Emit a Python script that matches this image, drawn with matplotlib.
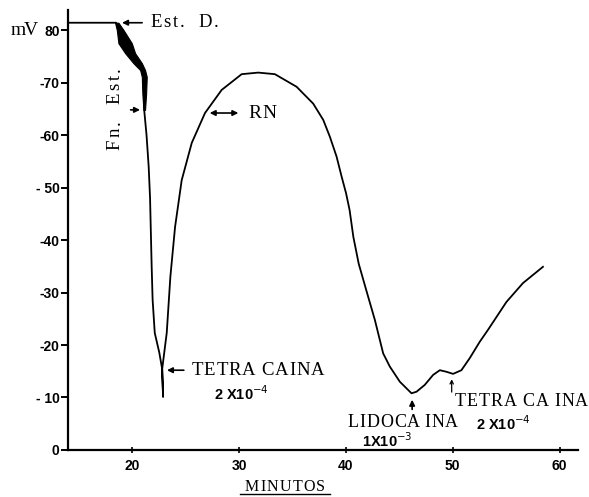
import numpy as np
import matplotlib.pyplot as plt
from matplotlib.lines import Line2D
from matplotlib.transforms import offset_copy

# trazo del potencial de membrana (mV, valor absoluto) contra minutos
minutos = [14, 18.5, 18.9, 19.35, 19.8, 20.5, 21.0, 21.14, 21.13, 21.13,
           21.35, 21.55, 21.68, 21.76, 21.83, 21.92, 22.12, 22.55, 22.83, 22.90,
           22.80, 23.24, 23.58, 24.02, 24.64, 25.58, 26.82, 28.38, 30.25, 31.8,
           33.36, 35.39, 36.94, 37.88, 38.50, 39.13, 39.60, 40.02, 40.35, 40.70,
           41.20, 41.90, 42.71, 43.49, 44.11, 45.05, 46.14, 46.61, 47.38, 48.16,
           48.79, 49.41, 50.03, 50.81, 51.59, 52.52, 53.30, 55.02, 56.57, 58.44]
mv = [81.4, 81.4, 80.0, 77.5, 75.6, 73.7, 72.4, 71.1, 67.9, 64.8,
      60.0, 54.0, 48.0, 41.0, 35.0, 28.6, 22.3, 18.5, 15.2, 10.1,
      15.2, 22.3, 33.0, 42.5, 51.4, 58.5, 64.2, 68.6, 71.6, 71.9,
      71.6, 69.2, 66.0, 62.9, 59.7, 55.9, 52.1, 48.9, 45.7, 40.6,
      35.5, 30.5, 24.8, 18.4, 15.9, 13.0, 10.8, 11.1, 12.4, 14.3,
      15.2, 14.9, 14.5, 15.2, 17.5, 20.6, 22.9, 28.2, 31.8, 34.9]

# banda oscura durante la estimulacion
banda_mv = [81.4, 80.0, 77.5, 75.6, 73.7, 72.4, 71.1, 67.9, 64.8]
banda_izq = [18.41, 18.57, 18.72, 19.35, 20.12, 20.75, 20.91, 20.96, 21.06]
banda_der = [18.72, 19.20, 19.97, 20.28, 20.91, 21.21, 21.37, 21.31, 21.21]

yticks = [0, 10, 20, 30, 40, 50, 60, 70, 80]
ylabels = ['0', '- 10', '-20', '-30', '-40', '- 50', '-60', '-70', '80']
xticks = [20, 30, 40, 50, 60]

serif = 'Liberation Serif'
sans = 'Liberation Sans'

fig = plt.figure(figsize=(5.89, 4.97), dpi=100, facecolor='white')
ax = fig.add_axes([0.1154, 0.0946, 0.8656, 0.885])
renderer = fig.canvas.get_renderer()


def spaced_text(x, y, s, width, size=11, rot=0):
    # texto a maquina: letras repartidas a lo largo de `width` pixeles
    texts, ws = [], []
    for ch in s:
        if rot == 0:
            t = ax.text(x, y, ch, family=serif, fontsize=size, ha='left', va='center')
        else:
            t = ax.text(x, y, ch, family=serif, fontsize=size, ha='center',
                        va='bottom', rotation=90)
        bb = t.get_window_extent(renderer)
        w = bb.width if rot == 0 else bb.height
        if ch == ' ':
            w = size * 0.3
        texts.append(t)
        ws.append(w)
    gap = (width - sum(ws)) / max(len(s) - 1, 1)
    pos = 0
    for t, w in zip(texts, ws):
        if rot == 0:
            t.set_transform(offset_copy(ax.transData, fig=fig, x=pos, y=0, units='dots'))
        else:
            t.set_transform(offset_copy(ax.transData, fig=fig, x=0, y=pos, units='dots'))
        pos += w + gap


ax.plot(minutos, mv, color='black', lw=1.3, solid_joinstyle='round')
ax.fill_betweenx(banda_mv, banda_izq, banda_der, color='black', lw=0.8)

ax.set_xlim(14, 61.7)
ax.set_ylim(0, 83.8)
ax.spines['top'].set_visible(False)
ax.spines['right'].set_visible(False)
ax.spines['left'].set_linewidth(1.6)
ax.spines['bottom'].set_linewidth(1.6)
ax.set_yticks(yticks)
ax.set_yticklabels(ylabels, fontsize=10, fontweight='bold', family=sans)
ax.set_xticks(xticks)
ax.set_xticklabels([str(t) for t in xticks], fontsize=10, fontweight='bold', family=sans)
ax.tick_params(axis='y', length=5, width=1.4, pad=1)
ax.tick_params(axis='x', direction='inout', length=5, width=1.2, pad=4)

arr = dict(arrowstyle='-|>', color='black', lw=1.2, mutation_scale=8)
num = dict(va='center', ha='center', fontsize=10.5, fontweight='bold', family=sans)

spaced_text(8.6, 80.0, 'mV', 28, size=14)

# Est. D.
ax.annotate('', xy=(18.8, 81.4), xytext=(21.2, 81.4), arrowprops=arr)
spaced_text(21.7, 81.4, 'Est.  D.', 68, size=13.5)

# Fn. Est.
spaced_text(18.4, 57.1, 'Fn.  Est.', 83, size=13.5, rot=90)
ax.annotate('', xy=(21.0, 64.8), xytext=(19.6, 64.8), arrowprops=arr)

# RN
ax.annotate('', xy=(27.0, 64.2), xytext=(30.2, 64.2),
            arrowprops=dict(arrowstyle='<|-|>', color='black', lw=1.2, mutation_scale=8))
spaced_text(30.85, 64.2, 'RN', 28, size=14)

# Tetracaina 1
ax.annotate('', xy=(23.0, 15.2), xytext=(25.1, 15.2), arrowprops=arr)
spaced_text(25.55, 15.2, 'TETRA CAINA', 133, size=13.5)
ax.text(30.2, 10.8, r'2 X10$^{-4}$', **num)

# Lidocaina
ax.annotate('', xy=(46.2, 10.1), xytext=(46.2, 7.2), arrowprops=arr)
spaced_text(40.2, 5.3, 'LIDOCA INA', 110, size=13)
ax.text(43.9, 1.7, r'1X10$^{-3}$', **num)

# Tetracaina 2
ax.annotate('', xy=(49.9, 14.0), xytext=(49.9, 10.5),
            arrowprops=dict(arrowstyle='->', color='black', lw=0.9, mutation_scale=6))
spaced_text(50.2, 9.3, 'TETRA CA INA', 133, size=13)
ax.text(54.7, 5.0, r'2 X10$^{-4}$', **num)

# MINUTOS subrayado
spaced_text(30.56, -7.05, 'MINUTOS', 80, size=11.5)
fig.add_artist(Line2D([240 / 589, 330 / 589], [1 - 494 / 497, 1 - 494 / 497],
                      color='black', lw=1.0))

fig.savefig('out.png', dpi=100)
